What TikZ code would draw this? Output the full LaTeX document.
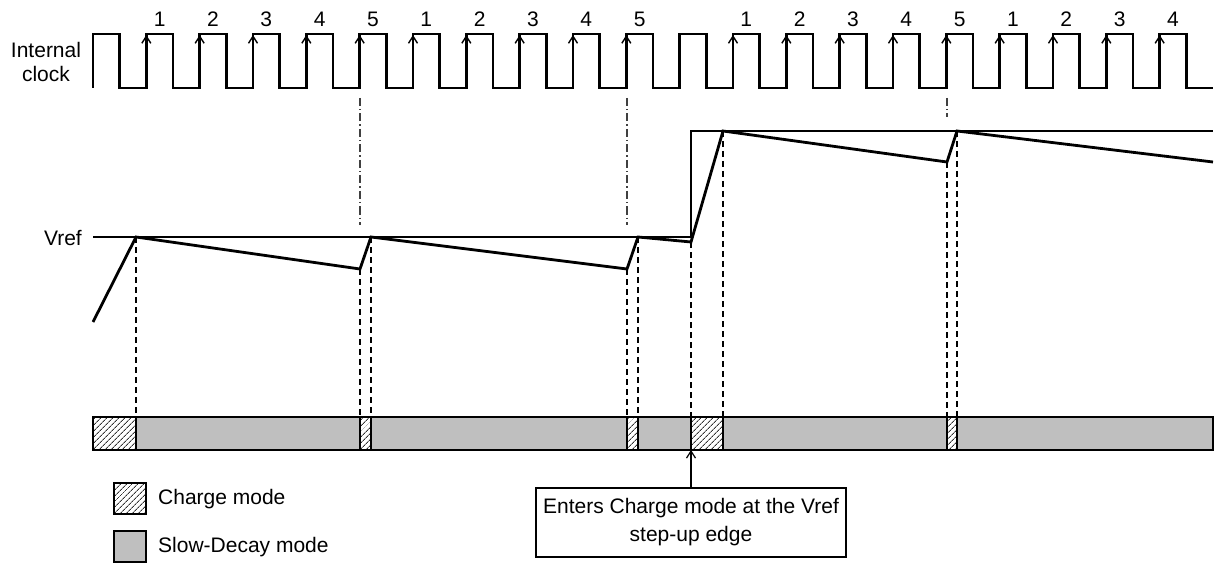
\documentclass[tikz,border=0pt]{standalone}
\usepackage{fontspec}
\setmainfont{Liberation Sans}
\usetikzlibrary{arrows.meta,patterns.meta}

\begin{document}
\begin{tikzpicture}[x=1pt,y=-1pt,font=\fontsize{21}{24}\selectfont]
	\def \clkhi{34}
	\def \clklo{88}
	\def \vrefht{237}
	\def \stepht{131}
	\def \bartop{417}
	\def \barbot{450}
	\def \per{53.333}
	\tikzstyle{wave}=[line width=2.6pt]
	\tikzstyle{volt}=[line width=2.8pt]
	\tikzstyle{edgearrow}=[line width=1.4pt,-{Straight Barb[length=7pt,width=9pt]}]
	\tikzstyle{guide}=[line width=1.2pt,dash pattern=on 6pt off 4pt]
	\tikzstyle{clkguide}=[line width=1.2pt,black!75,dash pattern=on 8pt off 3pt on 1.5pt off 3pt]
	\tikzstyle{charge}=[draw=black,line width=1.2pt,pattern={Lines[angle=45,distance=4pt,line width=1pt]},pattern color=black!80]
	\tikzstyle{decay}=[draw=black,line width=1.2pt,fill=black!25]
	\tikzstyle{annot}=[inner sep=0pt,anchor=west]

	\useasboundingbox (0,0) rectangle (1219,567);

	% labels
	\node[align=center,inner sep=0pt] (clklabel) at (46,62) {Internal\\clock};
	\node[inner sep=0pt,anchor=east] (vreflabel) at (82,238) {Vref};

	% internal clock
	\draw[wave] (93,\clklo) \foreach \k in {0,...,20} { -- ++(0,-54) -- ++(26.667,0) -- ++(0,54) -- ++(26.667,0) };
	\foreach \k in {1,...,10} {
		\pgfmathtruncatemacro{\num}{mod(\k-1,5)+1}
		\draw[edgearrow] (93+\k*\per,60) -- (93+\k*\per,\clkhi+1);
		\node[inner sep=0pt] (tick\k) at (106.3+\k*\per,19) {\num};
	}
	\foreach \k in {12,...,20} {
		\pgfmathtruncatemacro{\num}{mod(\k-12,5)+1}
		\draw[edgearrow] (93+\k*\per,60) -- (93+\k*\per,\clkhi+1);
		\node[inner sep=0pt] (tick\k) at (106.3+\k*\per,19) {\num};
	}
	\draw[clkguide] (360,98) -- (360,225);
	\draw[clkguide] (627,98) -- (627,225);
	\draw[clkguide] (947,98) -- (947,117);

	% vref and output voltage
	\coordinate (v0) at (93,\vrefht);
	\coordinate (s0) at (93,322);
	\coordinate (s1) at (136,\vrefht);
	\coordinate (s2) at (360,269);
	\coordinate (s3) at (371,\vrefht);
	\coordinate (s4) at (627,269);
	\coordinate (s5) at (638,\vrefht);
	\coordinate (s6) at (691,242);
	\coordinate (s7) at (723,\stepht);
	\coordinate (s8) at (947,162);
	\coordinate (s9) at (957,\stepht);
	\coordinate (s10) at (1213,162);
	\draw[volt] (v0) -- (691,\vrefht) -- (691,\stepht) -- (1213,\stepht);
	\draw[volt] (s0) -- (s1) -- (s2) -- (s3) -- (s4) -- (s5) -- (s6) -- (s7) -- (s8) -- (s9) -- (s10);

	% mode bar
	\coordinate (bartopleft) at (93,\bartop);
	\coordinate (barbotleft) at (93,\barbot);
	\foreach \i in {1,...,9}
		\draw[guide] (s\i) -- (s\i |- bartopleft);
	\foreach \a/\b in {136/360,371/627,638/691,723/947,957/1213}
		\draw[decay] (\a,\bartop) rectangle (\b,\barbot);
	\foreach \a/\b in {93/136,360/371,627/638,691/723,947/957}
		\draw[charge] (\a,\bartop) rectangle (\b,\barbot);

	% legend
	\draw[charge] (114,483) rectangle (146,514);
	\node[annot] (chargetxt) at (158,499) {Charge mode};
	\draw[decay] (114,531) rectangle (146,562);
	\node[annot] (decaytxt) at (158,547) {Slow-Decay mode};

	% note
	\node[draw,line width=1.2pt,align=center,minimum width=310pt,minimum height=69pt,inner sep=0pt,font=\fontsize{21}{28}\selectfont] (note) at (691,522.5) {Enters Charge mode at the Vref\\step-up edge};
	\draw[line width=1.2pt,-{Straight Barb[length=7pt,width=9pt]}] (note.north) -- (note.north |- barbotleft);
\end{tikzpicture}
\end{document}
